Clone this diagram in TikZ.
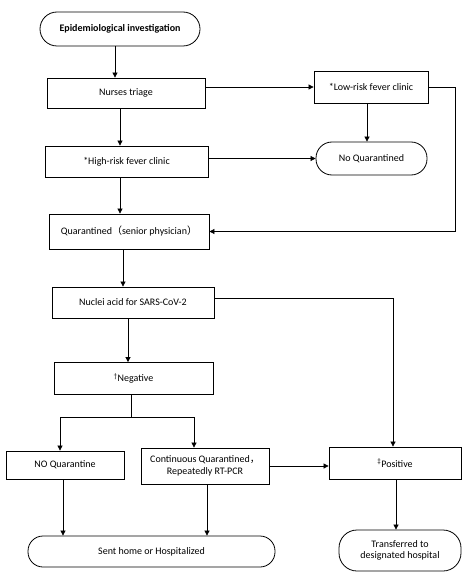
\documentclass[tikz,border=0pt]{standalone}
\usepackage{fontspec}
\setmainfont{Carlito}
\newfontfamily\cjk{Noto Sans CJK SC}
\usetikzlibrary{arrows.meta,calc}
\begin{document}
\begin{tikzpicture}[x=1pt,y=-1pt,
  every node/.style={font=\fontsize{10}{11.5}\selectfont},
  box/.style={draw,line width=0.8pt,rectangle,inner sep=0pt,align=center},
  term/.style={draw,line width=0.8pt,rectangle,inner sep=0pt,align=center,rounded corners=#1},
  arr/.style={-{Triangle[length=5pt,width=5pt]},line width=0.7pt},
  ln/.style={line width=0.7pt}]
\useasboundingbox (0,0) rectangle (467,575);
\node[term=17pt,minimum width=160pt,minimum height=34pt,font=\fontsize{10}{11.5}\selectfont\bfseries] (epi) at (120,29) {Epidemiological investigation};
\node[box,minimum width=158pt,minimum height=30pt] (nurse) at (126,93) {Nurses triage};
\node[box,minimum width=114pt,minimum height=32pt] (low) at (371,87) {*Low-risk fever clinic};
\node[box,minimum width=163pt,minimum height=31pt] (high) at (126.5,161.5) {*High-risk fever clinic};
\node[term=16pt,minimum width=111pt,minimum height=33pt] (noq) at (371.5,158.5) {No Quarantined};
\node[box,minimum width=160pt,minimum height=35pt] (quar) at (129,231.5) {Quarantined{\cjk（}senior physician{\cjk）}};
\node[box,minimum width=162pt,minimum height=31pt] (nuc) at (133,302.5) {Nuclei acid for SARS-CoV-2};
\node[box,minimum width=159pt,minimum height=32pt] (neg) at (133.5,378.5) {\textsuperscript{\textdagger}Negative};
\node[box,minimum width=118pt,minimum height=28pt] (noqt) at (65,465) {NO Quarantine};
\node[box,minimum width=128pt,minimum height=36pt] (cont) at (205,466) {Continuous Quarantined{\cjk，}\\Repeatedly RT-PCR};
\node[box,minimum width=132pt,minimum height=32pt] (pos) at (395,463) {\textsuperscript{\textdaggerdbl}Positive};
\node[term=15pt,minimum width=247pt,minimum height=31pt] (sent) at (151.5,551.5) {Sent home or Hospitalized};
\node[term=18pt,minimum width=122pt,minimum height=41pt] (trans) at (400,550.5) {Transferred to\\designated hospital};

\path ([xshift=-5pt]epi.south) coordinate (c1)
      ([xshift=-6pt]nurse.south) coordinate (c2)
      ([xshift=-4pt]low.south) coordinate (c3)
      ([xshift=-6.5pt]high.south) coordinate (c4)
      ([xshift=-6pt]quar.south) coordinate (c5)
      ([xshift=-5pt]nuc.south) coordinate (c6)
      ([xshift=-2.5pt]neg.south) coordinate (c7)
      ([xshift=-2pt]noqt.south) coordinate (c8)
      ([xshift=2pt]cont.south) coordinate (c9)
      ([xshift=1pt]pos.south) coordinate (c10)
      ([yshift=4.5pt]nuc.east) coordinate (c11);
\coordinate (split) at ($(c7)+(0,22)$);

\draw[arr] (c1) -- (c1 |- nurse.north);
\draw[arr] (nurse.east |- low.west) -- (low.west);
\draw[arr] (c2) -- (c2 |- high.north);
\draw[arr] (c3) -- (c3 |- noq.north);
\draw[arr] (high.east |- noq.west) -- (noq.west);
\draw[arr] (low.east) -- ++(27,0) |- (quar.east);
\draw[arr] (c4) -- (c4 |- quar.north);
\draw[arr] (c5) -- (c5 |- nuc.north);
\draw[arr] (c6) -- (c6 |- neg.north);
\draw[arr] (c11) -| ([xshift=-2pt]pos.north);
\draw[ln] (c7) -- (split);
\draw[arr] (split) -| ([xshift=-5pt]noqt.north);
\draw[arr] (split) -| ([xshift=-11pt]cont.north);
\draw[arr] (cont.east) -- (cont.east -| pos.west);
\draw[arr] (c8) -- (c8 |- sent.north);
\draw[arr] (c9) -- (c9 |- sent.north);
\draw[arr] (c10) -- (c10 |- trans.north);
\end{tikzpicture}
\end{document}
